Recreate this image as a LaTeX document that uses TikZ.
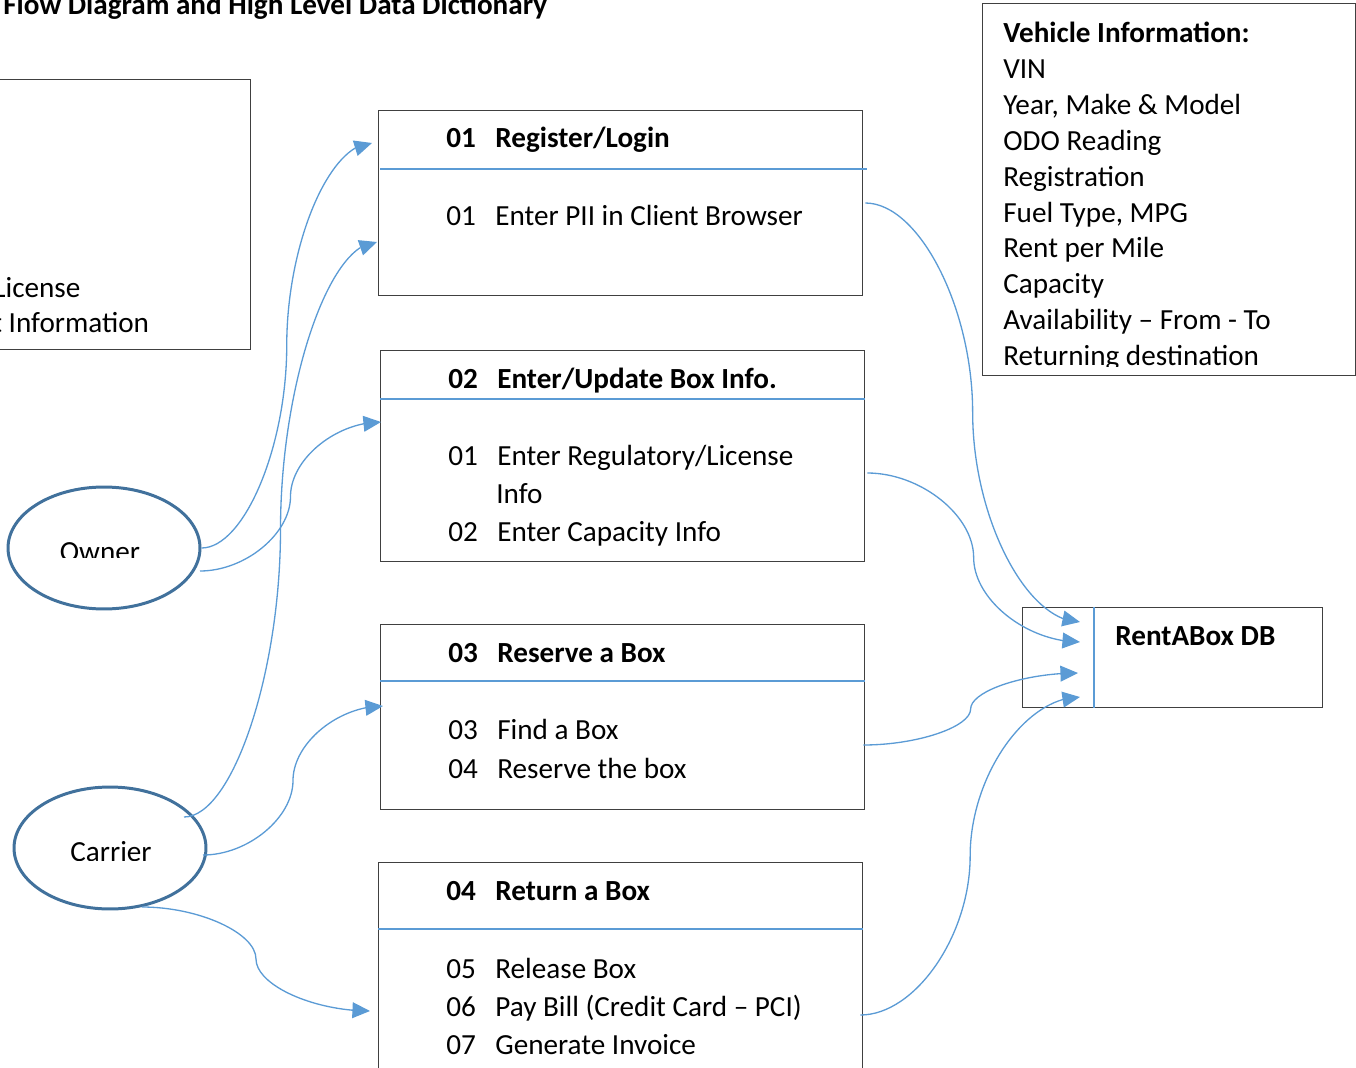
\documentclass[tikz,border=0pt]{standalone}
\usepackage{fontspec}
\setmainfont{Carlito}
\usetikzlibrary{calc, positioning, shapes.geometric, arrows.meta, bending}

\definecolor{linkblue}{HTML}{5B9BD5}
\definecolor{actorblue}{HTML}{41719C}

\newcommand{\numtxt}[2]{\makebox[0.98cm][l]{#1}#2}

\tikzset{
	box/.style={draw=black!75, line width=0.8pt, inner sep=0pt, anchor=north west},
	actor/.style={ellipse, draw=actorblue, line width=1.7pt, minimum width=3.84cm,
		minimum height=2.44cm, inner sep=0pt},
	sep/.style={draw=linkblue, line width=0.7pt},
	flow/.style={draw=linkblue, line width=0.75pt, -{Triangle[length=10pt,width=9pt]}},
	txt/.style={anchor=base west, inner sep=0pt},
	hdr/.style={font=\fontsize{16.6}{20}\selectfont\bfseries},
	% curved connector: horizontal at both ends, vertical in the middle
	wordcurve/.style={to path={
		let \p1=(\tikztostart), \p2=(\tikztotarget),
			\p3=(\x1/2+\x2/2, \y1/2+\y2/2) in
		.. controls (\x1/2+\x3/2, \y1) and (\x3, \y1/2+\y3/2) .. (\p3)
		.. controls (\x3, \y3/2+\y2/2) and (\x3/2+\x2/2, \y2) .. (\tikztotarget)}}
}

\begin{document}
\begin{tikzpicture}[x=0.02cm, y=-0.02cm, font=\fontsize{16.6}{20}\selectfont]
	\useasboundingbox (0,0) rectangle (1356,1068);

	\node[txt, hdr] (title) at (3,15) {Flow Diagram and High Level Data Dictionary};

	% owner data box, cut at the left edge
	\node[box, minimum width=5.4cm, minimum height=5.4cm] (ownbox) at (-20,79) {};
	\node[txt] (lic) at (-7,297) {License};
	\node[txt] (inf) at (-8,332) {t Information};

	% vehicle data box
	\node[box, minimum width=7.46cm, minimum height=7.44cm] (veh) at (982,3) {};
	\begin{scope}
		\clip (veh.north west) rectangle (1356,366);
		\node[txt, hdr] (vehh) at (1003,43) {Vehicle Information:};
		\foreach \t [count=\i] in {VIN, {Year, Make \& Model}, ODO Reading, Registration,
			{Fuel Type, MPG}, Rent per Mile, Capacity, Availability – From - To,
			Returning destination}
			\node[txt] (veh\i) at (1003,43+35.8*\i) {\t};
	\end{scope}

	% processes
	\node[box, minimum width=9.68cm, minimum height=3.7cm] (reg) at (378,110) {};
	\draw[sep] ($(reg.north west)+(2,59)$) -- ($(reg.north east)+(4,59)$);
	\node[txt, hdr] (regh) at (446,148) {\numtxt{01}{Register/Login}};
	\node[txt] (reg1) at (446,225) {\numtxt{01}{Enter PII in Client Browser}};

	\node[box, minimum width=9.68cm, minimum height=4.22cm] (upd) at (380,350) {};
	\draw[sep] ($(upd.north west)+(0,49)$) -- ($(upd.north east)+(0,49)$);
	\node[txt, hdr] (updh) at (448,388) {\numtxt{02}{Enter/Update Box Info.}};
	\node[txt] (upd1) at (448,465) {\numtxt{01}{Enter Regulatory/License}};
	\node[txt] (upd1b) at (496,503) {Info};
	\node[txt] (upd2) at (448,541) {\numtxt{02}{Enter Capacity Info}};

	\node[box, minimum width=9.68cm, minimum height=3.7cm] (res) at (380,624) {};
	\draw[sep] ($(res.north west)+(0,57)$) -- ($(res.north east)+(0,57)$);
	\node[txt, hdr] (resh) at (448,662) {\numtxt{03}{Reserve a Box}};
	\node[txt] (res1) at (448,739) {\numtxt{03}{Find a Box}};
	\node[txt] (res2) at (448,778) {\numtxt{04}{Reserve the box}};

	\node[box, minimum width=9.68cm, minimum height=4.6cm] (ret) at (378,862) {};
	\draw[sep] ($(ret.north west)+(0,67)$) -- ($(ret.north east)+(0,67)$);
	\node[txt, hdr] (reth) at (446,900) {\numtxt{04}{Return a Box}};
	\node[txt] (ret1) at (446,978) {\numtxt{05}{Release Box}};
	\node[txt] (ret2) at (446,1016) {\numtxt{06}{Pay Bill (Credit Card – PCI)}};
	\node[txt] (ret3) at (446,1054) {\numtxt{07}{Generate Invoice}};

	% database
	\node[box, minimum width=6cm, minimum height=2cm] (db) at (1022,607) {};
	\draw[sep] ($(db.north west)+(72,0)$) -- ($(db.south west)+(72,0)$);
	\node[txt, hdr] (dbh) at (1115,645) {RentABox DB};

	% actors
	\node[actor] (owner) at (104,548) {};
	\begin{scope}
		\clip (0,480) rectangle (250,557);
		\node[anchor=base, inner sep=0pt] (ownt) at (100,561) {Owner};
	\end{scope}
	\node[actor] (carrier) at (110,848) {};
	\begin{scope}
		\clip (0,780) rectangle (250,860);
		\node[anchor=base, inner sep=0pt] (cart) at (111,861) {Carrier};
	\end{scope}

	% connector ends
	\coordinate (own2) at ($(owner.center)+(96,23)$);
	\coordinate (car1) at ($(carrier.center)+(74,-31)$);
	\coordinate (car2) at ($(carrier.center)+(93,7)$);
	\coordinate (car3) at ($(carrier.center)+(32,59)$);
	\coordinate (in1a) at ($(reg.north west)+(-6,33)$);
	\coordinate (in1b) at ($(reg.north west)+(-1,132)$);
	\coordinate (in2) at ($(upd.north west)+(1,72)$);
	\coordinate (in3) at ($(res.north west)+(3,82)$);
	\coordinate (in4) at ($(ret.north west)+(-8,149)$);
	\coordinate (out1) at ($(reg.north east)+(2,93)$);
	\coordinate (out2) at ($(upd.north east)+(2,123)$);
	\coordinate (out3) at ($(res.north east)+(-2,121)$);
	\coordinate (out4) at ($(ret.north east)+(-3,153)$);
	\coordinate (db1) at ($(db.north west)+(58,15)$);
	\coordinate (db2) at ($(db.north west)+(58,35)$);
	\coordinate (db3) at ($(db.north west)+(56,66)$);
	\coordinate (db4) at ($(db.north west)+(58,90)$);

	\draw[flow] (owner.east) to[wordcurve] (in1a);
	\draw[flow] (own2) to[wordcurve] (in2);
	\draw[flow] (car1) to[wordcurve] (in1b);
	\draw[flow] (car2) to[wordcurve] (in3);
	\draw[flow] (car3) to[wordcurve] (in4);
	\draw[flow] (out1) to[wordcurve] (db1);
	\draw[flow] (out2) to[wordcurve] (db2);
	\draw[flow] (out3) to[wordcurve] (db3);
	\draw[flow] (out4) to[wordcurve] (db4);
\end{tikzpicture}
\end{document}
